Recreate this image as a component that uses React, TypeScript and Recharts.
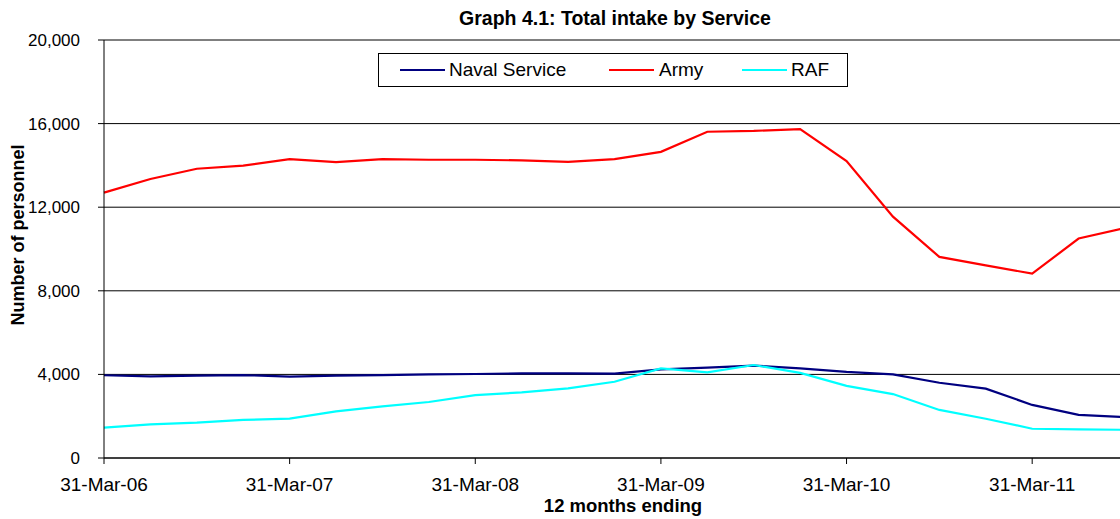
import React from 'react';
import { LineChart, Line, XAxis, YAxis, CartesianGrid, Legend, Label } from 'recharts';

const dates = [
  '31-Mar-06', '30-Jun-06', '30-Sep-06', '31-Dec-06',
  '31-Mar-07', '30-Jun-07', '30-Sep-07', '31-Dec-07',
  '31-Mar-08', '30-Jun-08', '30-Sep-08', '31-Dec-08',
  '31-Mar-09', '30-Jun-09', '30-Sep-09', '31-Dec-09',
  '31-Mar-10', '30-Jun-10', '30-Sep-10', '31-Dec-10',
  '31-Mar-11', '30-Jun-11', '30-Sep-11',
];

const navalService = [3960, 3910, 3940, 3970, 3890, 3940, 3970, 4000, 4020, 4050, 4050, 4035, 4240, 4320, 4420, 4290, 4120, 4000, 3600, 3320, 2540, 2060, 1960];
const army = [12700, 13350, 13840, 13990, 14300, 14160, 14300, 14270, 14270, 14240, 14170, 14300, 14650, 15610, 15650, 15740, 14210, 11550, 9620, 9220, 8820, 10500, 11000];
const raf = [1450, 1610, 1690, 1820, 1880, 2230, 2470, 2680, 3010, 3140, 3330, 3650, 4290, 4100, 4450, 4070, 3450, 3060, 2300, 1880, 1400, 1370, 1350];

const yTicks = [0, 4000, 8000, 12000, 16000, 20000];

const seriesNames = ['Naval Service', 'Army', 'RAF'];
const seriesColors = ['#000080', '#FF0000', '#00FFFF'];

const data = dates.map((d, i) => ({
  date: d,
  naval: navalService[i],
  army: army[i],
  raf: raf[i],
}));

const FONT = '"Liberation Sans", Arial, sans-serif';

const legendPositions = [
  { line: 21, text: 70 },
  { line: 230, text: 280 },
  { line: 363, text: 412 },
];

const renderLegend = () => (
  <div
    style={{
      position: 'relative',
      width: 470,
      height: 34,
      border: '1px solid #000',
      boxSizing: 'border-box',
      background: '#fff',
      fontFamily: FONT,
      fontSize: 19,
      color: '#000',
    }}
  >
    {seriesNames.map((name, i) => (
      <React.Fragment key={name}>
        <div
          style={{
            position: 'absolute',
            left: legendPositions[i].line,
            top: 15,
            width: 45,
            height: 2,
            background: seriesColors[i],
          }}
        />
        <div
          style={{
            position: 'absolute',
            left: legendPositions[i].text,
            top: 5,
            lineHeight: '22px',
            whiteSpace: 'nowrap',
          }}
        >
          {name}
        </div>
      </React.Fragment>
    ))}
  </div>
);

const fmt = (v: number) => v.toLocaleString('en-US');

export default function App() {
  return (
    <div
      style={{
        position: 'absolute',
        left: 0,
        top: 0,
        width: 1120,
        height: 519,
        overflow: 'hidden',
        background: '#fff',
      }}
    >
      <LineChart
        width={1140}
        height={519}
        data={data}
        margin={{ top: 40, right: 15, bottom: 0, left: 0 }}
      >
        <CartesianGrid horizontal={true} vertical={false} stroke="#000" strokeWidth={1} />
        <XAxis
          dataKey="date"
          interval={3}
          height={61}
          tickSize={6}
          tickMargin={14}
          axisLine={{ stroke: '#000' }}
          tickLine={{ stroke: '#000' }}
          tick={{ fill: '#000', fontSize: 19, fontFamily: FONT }}
        >
          <Label
            content={() => (
              <g>
                <text
                  x={623}
                  y={512}
                  textAnchor="middle"
                  fontFamily={FONT}
                  fontSize={18.5}
                  fontWeight="bold"
                  fill="#000"
                >
                  12 months ending
                </text>
                <text
                  x={615}
                  y={25}
                  textAnchor="middle"
                  fontFamily={FONT}
                  fontSize={19.5}
                  fontWeight="bold"
                  fill="#000"
                >
                  Graph 4.1: Total intake by Service
                </text>
              </g>
            )}
          />
        </XAxis>
        <YAxis
          width={104}
          domain={[0, 20000]}
          ticks={yTicks}
          tickFormatter={fmt}
          tickSize={6}
          tickMargin={18}
          axisLine={{ stroke: '#000' }}
          tickLine={{ stroke: '#000' }}
          tick={{ fill: '#000', fontSize: 17, fontFamily: FONT }}
        >
          <Label
            content={() => (
              <text
                x={24}
                y={235}
                textAnchor="middle"
                transform="rotate(-90, 24, 235)"
                fontFamily={FONT}
                fontSize={18}
                fontWeight="bold"
                fill="#000"
              >
                Number of personnel
              </text>
            )}
          />
        </YAxis>
        <Legend
          layout="horizontal"
          verticalAlign="middle"
          align="center"
          content={renderLegend}
          wrapperStyle={{ position: 'absolute', left: 378, top: 53, width: 470, height: 34 }}
        />
        <Line
          type="linear"
          dataKey="naval"
          name={seriesNames[0]}
          stroke={seriesColors[0]}
          strokeWidth={2.2}
          dot={false}
          isAnimationActive={false}
        />
        <Line
          type="linear"
          dataKey="army"
          name={seriesNames[1]}
          stroke={seriesColors[1]}
          strokeWidth={2.2}
          dot={false}
          isAnimationActive={false}
        />
        <Line
          type="linear"
          dataKey="raf"
          name={seriesNames[2]}
          stroke={seriesColors[2]}
          strokeWidth={2.2}
          dot={false}
          isAnimationActive={false}
        />
      </LineChart>
    </div>
  );
}
